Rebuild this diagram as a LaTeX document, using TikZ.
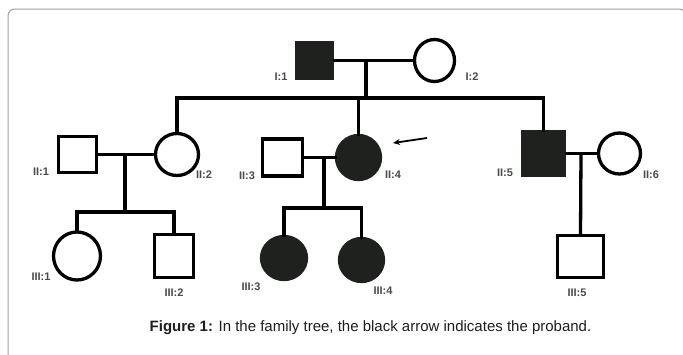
\documentclass[tikz,border=0pt]{standalone}
\usepackage{fontspec}
\setmainfont{Liberation Sans}
\usetikzlibrary{shapes.geometric,arrows.meta}
\definecolor{affected}{RGB}{30,33,30}
\definecolor{framegray}{RGB}{160,160,160}
\definecolor{labelgray}{RGB}{75,75,75}
\definecolor{captiongray}{RGB}{30,30,30}
\begin{document}
\begin{tikzpicture}[x=1pt,y=-1pt,
  person/.style={draw=black,line width=3.3pt,inner sep=0pt,outer sep=0pt,fill=white},
  male/.style={person,rectangle},
  female/.style={person,ellipse},
  sick/.style={fill=affected,draw=affected},
  lab/.style={text=labelgray,font=\fontsize{11}{13}\selectfont\bfseries,inner sep=0pt},
  link/.style={line width=3.3pt,line join=miter},
]
\useasboundingbox (0,0) rectangle (683,354);
\fill[white] (0,0) rectangle (683,354);
\begin{scope}
\clip (0,0) rectangle (683,354);
\draw[framegray,line width=1pt,rounded corners=7pt] (8,9) rectangle (686,362);
\end{scope}

% Generation I
\node[male,sick,minimum width=36pt,minimum height=36pt] (I1) at (314.5,60.5) {};
\node[female,minimum width=40pt,minimum height=42pt] (I2) at (434.5,60.5) {};
% Generation II
\node[male,minimum width=38pt,minimum height=36pt] (II1) at (77.5,154.5) {};
\node[female,minimum width=43pt,minimum height=42pt] (II2) at (177,154.5) {};
\node[male,minimum width=40pt,minimum height=37pt] (II3) at (282.5,157.5) {};
\node[female,sick,minimum width=44pt,minimum height=44pt] (II4) at (358.5,157.5) {};
\node[male,sick,minimum width=42pt,minimum height=43pt] (II5) at (543.5,153.5) {};
\node[female,minimum width=42pt,minimum height=41pt] (II6) at (619.5,153.5) {};
% Generation III
\node[female,minimum width=47pt,minimum height=48pt] (III1) at (77,256) {};
\node[male,minimum width=39pt,minimum height=43pt] (III2) at (174,256) {};
\node[female,sick,minimum width=45pt,minimum height=43pt] (III3) at (284,258) {};
\node[female,sick,minimum width=44pt,minimum height=43pt] (III4) at (361.5,260) {};
\node[male,minimum width=46pt,minimum height=42pt] (III5) at (580.5,256.5) {};

% helper coordinates
\coordinate (m1) at (366,60.5);
\coordinate (s1) at (366,98);
\coordinate (m2) at (125,154.5);
\coordinate (s2) at (125,212);
\coordinate (m3) at (324,157.5);
\coordinate (s3) at (324,208);
\coordinate (m4) at (581,153.5);
\coordinate (a1) at (427,138);
\coordinate (a2) at (393,143);

% marriages
\draw[link] (I1.east) -- (I2.west);
\draw[link] (II1.east) -- (II2.west);
\draw[link] (II3.east) -- (II4.west);
\draw[link] (II5.east) -- (II6.west);
% descents
\draw[link] (m1) -- (s1);
\draw[link] (m2) -- (s2);
\draw[link] (m3) -- (s3);
\draw[link] (m4) -- (III5.north);
% sibships
\draw[link] (II2.north) -- (II2.north |- s1) -- (II5.north |- s1) -- (II5.north);
\draw[link] (II4.north |- s1) -- (II4.north);
\draw[link] (III1.north) -- (III1.north |- s2) -- (III2.north |- s2) -- (III2.north);
\draw[link] (III3.north) -- (III3.north |- s3) -- (III4.north |- s3) -- (III4.north);
% proband arrow
\draw[line width=1.8pt,-{Stealth[length=7pt,width=6pt]}] (a1) -- (a2);

% labels
\node[lab] (lI1) at (281,77) {I:1};
\node[lab] (lI2) at (472,77) {I:2};
\node[lab] (lII1) at (41,172) {II:1};
\node[lab] (lII2) at (204,175) {II:2};
\node[lab] (lII3) at (247,176) {II:3};
\node[lab] (lII4) at (393,175) {II:4};
\node[lab] (lII5) at (505,173) {II:5};
\node[lab] (lII6) at (651,175) {II:6};
\node[lab] (lIII1) at (41,277) {III:1};
\node[lab] (lIII2) at (174,293) {III:2};
\node[lab] (lIII3) at (251,287) {III:3};
\node[lab] (lIII4) at (383,291) {III:4};
\node[lab] (lIII5) at (577,293) {III:5};

% caption
\node[text=captiongray,font=\fontsize{15}{18}\selectfont,inner sep=0pt] (cap) at (370.5,328)
  {\textbf{Figure 1:} In the family tree, the black arrow indicates the proband.};
\end{tikzpicture}
\end{document}
